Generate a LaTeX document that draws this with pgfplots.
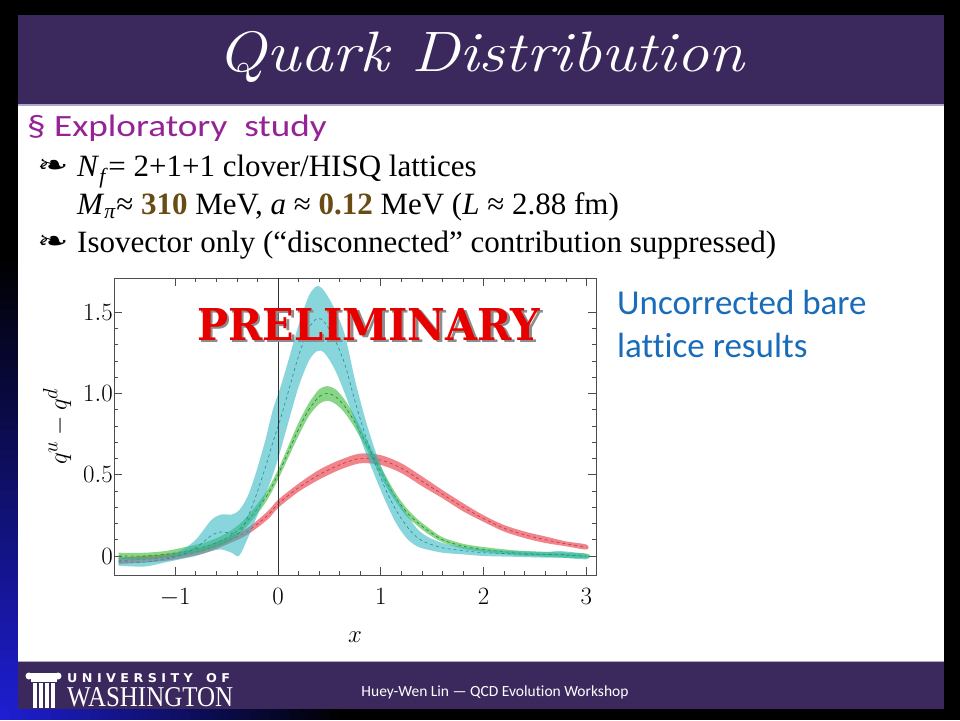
\documentclass[border=0pt]{standalone}
\usepackage{fontspec}
\usepackage{graphicx}
\usepackage{xcolor}
\usepackage{pgfplots}
\usepackage{pgfplotstable}
\pgfplotsset{compat=1.18}

\newfontfamily\carlito{Carlito}[Ligatures=NoCommon]
\newfontfamily\libserif{Liberation Serif}
\newfontfamily\djsans{DejaVu Sans}
\newfontfamily\djserif{DejaVu Serif}

\definecolor{slidepurple}{RGB}{59,41,94}
\definecolor{lavender}{RGB}{176,168,200}
\definecolor{bgblue}{RGB}{30,30,210}
\definecolor{exppurple}{RGB}{150,35,150}
\definecolor{numbrown}{RGB}{105,75,20}
\definecolor{uncblue}{RGB}{25,108,185}
\definecolor{prelred}{RGB}{232,0,0}
\definecolor{bandcyan}{RGB}{40,180,190}
\definecolor{bandgreen}{RGB}{40,180,40}
\definecolor{bandred}{RGB}{230,50,60}
\definecolor{dashcyan}{RGB}{30,140,155}
\definecolor{dashgreen}{RGB}{30,130,40}
\definecolor{dashred}{RGB}{190,50,70}

% central values of the three bands
\pgfplotstableread{
x mid
-1.55 -0.03
-1.3 -0.02
-1.1 -0.01
-0.9 0.01
-0.7 0.04
-0.5 0.09
-0.3 0.15
-0.1 0.25
0 0.32
0.2 0.42
0.4 0.50
0.6 0.56
0.8 0.60
1.0 0.59
1.2 0.54
1.4 0.46
1.6 0.38
1.8 0.30
2.0 0.23
2.2 0.17
2.4 0.13
2.6 0.10
2.8 0.075
3.0 0.055
}\redtab

\pgfplotstableread{
x mid
-1.55 0.00
-1.3 0.00
-1.1 0.01
-0.9 0.03
-0.7 0.06
-0.5 0.11
-0.35 0.18
-0.2 0.29
-0.1 0.38
0 0.50
0.1 0.64
0.2 0.78
0.3 0.90
0.4 0.98
0.48 1.00
0.56 0.98
0.65 0.92
0.75 0.82
0.85 0.70
0.95 0.58
1.05 0.46
1.15 0.355
1.25 0.27
1.35 0.21
1.45 0.16
1.6 0.10
1.8 0.06
2.0 0.04
2.3 0.02
2.6 0.01
3.0 0.00
}\greentab

\pgfplotstableread{
x mid
-1.55 -0.035
-1.3 -0.038
-1.1 -0.02
-0.95 0.005
-0.8 0.05
-0.65 0.125
-0.55 0.148
-0.45 0.138
-0.38 0.14
-0.3 0.23
-0.22 0.36
-0.12 0.55
-0.05 0.70
0.02 0.835
0.1 1.01
0.2 1.23
0.3 1.40
0.38 1.46
0.45 1.44
0.55 1.335
0.65 1.18
0.75 0.95
0.85 0.74
0.95 0.56
1.05 0.405
1.15 0.28
1.25 0.185
1.35 0.115
1.45 0.08
1.6 0.05
1.8 0.033
2.0 0.02
2.3 0.013
2.6 0.008
2.75 0.01
3.0 -0.005
}\cyantab

\begin{document}
\begin{tikzpicture}[x=1pt,y=1pt]
% slide background: black, with a blue glow in the lower left corner
\fill[black] (0,0) rectangle (960,720);
\foreach \i in {0,...,45} {
  \pgfmathtruncatemacro{\p}{100-\i*100/46}
  \fill[bgblue!\p!black] (0,\i*10) rectangle (18,\i*10+10.5);
}
\foreach \i in {0,...,33} {
  \pgfmathtruncatemacro{\p}{100-\i*100/34}
  \fill[bgblue!\p!black] (\i*10,0) rectangle (\i*10+10.5,11);
}
\fill[white] (18,11) rectangle (944,705);
\fill[slidepurple] (18,616) rectangle (944,705);
\fill[lavender] (18,614) rectangle (944,616);
\fill[slidepurple] (18,11) rectangle (944,58);
\fill[lavender] (18,58) rectangle (944,59.5);

% title
\node[anchor=base, inner sep=0, text=white, font={\fontsize{57}{62}\selectfont\itshape}]
  at (481,648) {\scalebox{1.14}[1]{Quark Distribution}};

% text block
\node[anchor=base west, inner sep=0, text=exppurple, font={\carlito\fontsize{31}{36}\selectfont}]
  at (27,583) {\scalebox{1.2}[1]{§ Exploratory\ \ study}};
\node[anchor=base west, inner sep=0, font={\djsans\fontsize{30}{30}\selectfont}] at (37,545) {\scalebox{1.25}[0.9]{❧}};
\node[anchor=base west, inner sep=0, font={\libserif\fontsize{31}{34}\selectfont}]
  at (77,543) {\textit{N}\textsubscript{\textit{f}}= 2+1+1 clover/HISQ lattices};
\node[anchor=base west, inner sep=0, font={\libserif\fontsize{31}{34}\selectfont}]
  at (77,505) {\textit{M}\textsubscript{\textit{π}}≈ \textbf{\textcolor{numbrown}{310}} MeV, \textit{a} ≈ \textbf{\textcolor{numbrown}{0.12}} MeV (\textit{L} ≈ 2.88 fm)};
\node[anchor=base west, inner sep=0, font={\djsans\fontsize{30}{30}\selectfont}] at (37,469) {\scalebox{1.25}[0.9]{❧}};
\node[anchor=base west, inner sep=0, font={\libserif\fontsize{31}{34}\selectfont}]
  at (77,467) {Isovector only (“disconnected” contribution suppressed)};

\node[anchor=base west, inner sep=0, text=uncblue, font={\carlito\fontsize{35}{40}\selectfont}]
  at (617,405) {Uncorrected bare};
\node[anchor=base west, inner sep=0, text=uncblue, font={\carlito\fontsize{35}{40}\selectfont}]
  at (617,362) {lattice results};

% chart
\begin{axis}[
    at={(114pt,145pt)}, anchor=south west,
    scale only axis, width=482pt, height=297pt,
    xmin=-1.595, xmax=3.093, ymin=-0.117, ymax=1.71,
    xtick={-1,0,1,2,3},
    ytick={0,0.5,1,1.5},
    yticklabels={$0$,$0.5$,$1.0$,$1.5$},
    minor x tick num=4,
    minor y tick num=4,
    tick align=inside,
    major tick length=8pt,
    minor tick length=4pt,
    every tick/.style={black!70, line width=0.7pt},
    axis line style={black!70, line width=0.8pt},
    xticklabel style={font=\fontsize{24.88}{26}\selectfont, yshift=-10pt},
    yticklabel style={font=\fontsize{24.88}{26}\selectfont, inner sep=1pt},
    xlabel={$x$},
    ylabel={$q^u-q^d$},
    xlabel style={at={(axis description cs:0.5,-0.21)}, anchor=center, font=\fontsize{24.88}{26}\selectfont},
    ylabel style={at={(axis description cs:-0.118,0.5)}, anchor=center, font=\fontsize{24.88}{26}\selectfont},
]
% red band: upper edge left to right, lower edge right to left
\addplot[fill=bandred, fill opacity=0.6, draw=none, smooth, forget plot] coordinates {
(-1.55,-0.01) (-1.3,0.00) (-1.1,0.01) (-0.9,0.03) (-0.7,0.06) (-0.5,0.11) (-0.3,0.17)
(-0.1,0.275) (0,0.345) (0.2,0.445) (0.4,0.53) (0.6,0.59) (0.8,0.63) (1.0,0.62) (1.2,0.57)
(1.4,0.49) (1.6,0.405) (1.8,0.325) (2.0,0.25) (2.2,0.19) (2.4,0.15) (2.6,0.12) (2.8,0.09) (3.0,0.07)
(3.0,0.04) (2.8,0.06) (2.6,0.08) (2.4,0.11) (2.2,0.15) (2.0,0.21) (1.8,0.275) (1.6,0.355)
(1.4,0.43) (1.2,0.51) (1.0,0.56) (0.8,0.57) (0.6,0.53) (0.4,0.47) (0.2,0.395) (0,0.295)
(-0.1,0.225) (-0.3,0.13) (-0.5,0.07) (-0.7,0.02) (-0.9,-0.01) (-1.1,-0.03) (-1.3,-0.04) (-1.55,-0.05)
} -- cycle;
\addplot[dashred, dashed, line width=0.6pt, smooth] table[x=x, y=mid] {\redtab};
% green band
\addplot[fill=bandgreen, fill opacity=0.55, draw=none, smooth, forget plot] coordinates {
(-1.55,0.02) (-1.3,0.02) (-1.1,0.03) (-0.9,0.055) (-0.7,0.085) (-0.5,0.14) (-0.35,0.21)
(-0.2,0.32) (-0.1,0.41) (0,0.53) (0.1,0.675) (0.2,0.82) (0.3,0.94) (0.4,1.025) (0.48,1.045)
(0.56,1.025) (0.65,0.96) (0.75,0.855) (0.85,0.73) (0.95,0.61) (1.05,0.49) (1.15,0.38)
(1.25,0.295) (1.35,0.23) (1.45,0.18) (1.6,0.115) (1.8,0.075) (2.0,0.055) (2.3,0.035) (2.6,0.025) (3.0,0.015)
(3.0,-0.015) (2.6,-0.005) (2.3,0.005) (2.0,0.025) (1.8,0.045) (1.6,0.085) (1.45,0.14) (1.35,0.19)
(1.25,0.245) (1.15,0.33) (1.05,0.43) (0.95,0.55) (0.85,0.67) (0.75,0.785) (0.65,0.88) (0.56,0.935)
(0.48,0.955) (0.4,0.935) (0.3,0.86) (0.2,0.74) (0.1,0.605) (0,0.47) (-0.1,0.35) (-0.2,0.26)
(-0.35,0.15) (-0.5,0.08) (-0.7,0.035) (-0.9,0.005) (-1.1,-0.01) (-1.3,-0.02) (-1.55,-0.02)
} -- cycle;
\addplot[dashgreen, dashed, line width=0.6pt, smooth] table[x=x, y=mid] {\greentab};
% cyan band
\addplot[fill=bandcyan, fill opacity=0.55, draw=none, smooth, forget plot] coordinates {
(-1.55,-0.01) (-1.3,-0.01) (-1.1,0.00) (-0.95,0.03) (-0.8,0.10) (-0.65,0.22) (-0.55,0.255)
(-0.45,0.255) (-0.38,0.28) (-0.3,0.36) (-0.22,0.50) (-0.12,0.72) (-0.05,0.90) (0.02,1.03)
(0.1,1.20) (0.2,1.42) (0.3,1.60) (0.38,1.66) (0.45,1.63) (0.55,1.52) (0.65,1.36) (0.75,1.08)
(0.85,0.84) (0.95,0.64) (1.05,0.48) (1.15,0.36) (1.25,0.26) (1.35,0.17) (1.45,0.12) (1.6,0.08)
(1.8,0.055) (2.0,0.04) (2.3,0.03) (2.6,0.025) (2.75,0.03) (3.0,0.01)
(3.0,-0.02) (2.75,-0.01) (2.6,-0.01) (2.3,-0.005) (2.0,0.00) (1.8,0.01) (1.6,0.02) (1.45,0.04)
(1.35,0.06) (1.25,0.11) (1.15,0.20) (1.05,0.33) (0.95,0.48) (0.85,0.64) (0.75,0.82) (0.65,1.00)
(0.55,1.15) (0.45,1.25) (0.38,1.26) (0.3,1.20) (0.2,1.04) (0.1,0.82) (0.02,0.64) (-0.05,0.50)
(-0.12,0.38) (-0.22,0.22) (-0.3,0.10) (-0.38,0.00) (-0.45,0.02) (-0.55,0.04) (-0.65,0.03)
(-0.8,0.00) (-0.95,-0.02) (-1.1,-0.04) (-1.3,-0.065) (-1.55,-0.06)
} -- cycle;
\addplot[dashcyan, dashed, line width=0.6pt, smooth] table[x=x, y=mid] {\cyantab};
% x = 0
\addplot[black!80, line width=0.7pt] coordinates {(0,-0.117) (0,1.71)};
\end{axis}

% PRELIMINARY stamp, with its grey drop shadow in the same box
\newcommand\prelim{\resizebox{343pt}{32pt}{\djserif\bfseries PRELIMINARY}}
\node[anchor=south west, inner sep=0] at (197,377)
  {\rlap{\hspace{2.5pt}\raisebox{-2.5pt}{\textcolor{black!45}{\prelim}}}\textcolor{prelred}{\prelim}};

% footer
\fill[white] (27,41) rectangle (60,47);
\fill[white] (29,44) circle (3.5);
\fill[white] (58,44) circle (3.5);
\fill[white] (31,38) rectangle (57,41);
\foreach \xx in {33,39,45,51} { \fill[white] (\xx,12) rectangle (\xx+4,37); }
\node[anchor=base west, inner sep=0, text=white] at (67,38)
  {\resizebox{163pt}{9pt}{\djsans\bfseries U N I V E R S I T Y\ \ \ O F}};
\node[anchor=base west, inner sep=0, text=white] at (67,14)
  {\resizebox{166pt}{19pt}{\libserif WASHINGTON}};
\node[anchor=base, inner sep=0, text=white, font={\carlito\fontsize{15.5}{18}\selectfont}]
  at (495,24) {Huey-Wen Lin — QCD Evolution Workshop};
\end{tikzpicture}
\end{document}
